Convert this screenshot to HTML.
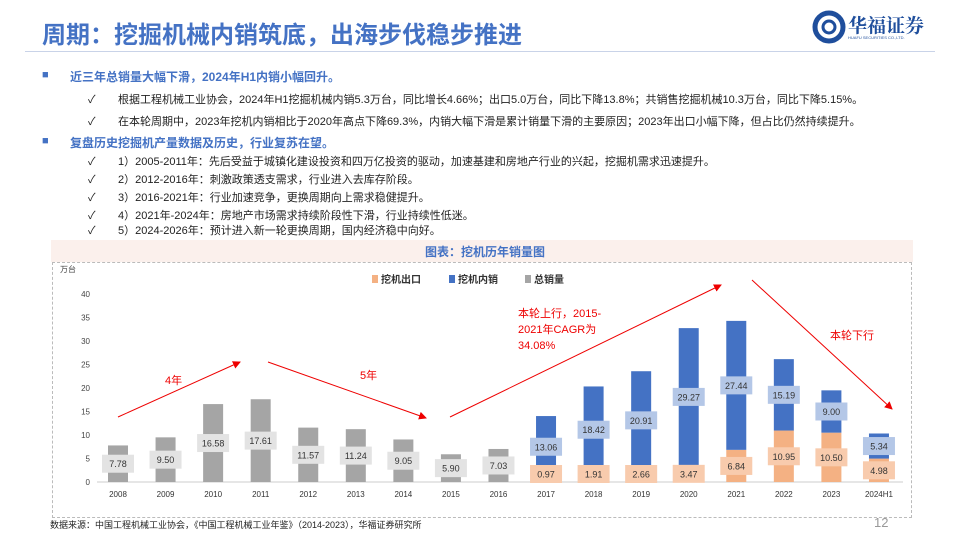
<!DOCTYPE html>
<html><head><meta charset="utf-8">
<style>
body{margin:0;width:960px;height:540px;background:#fff;font-family:"Liberation Sans","Noto Sans CJK SC",sans-serif;position:relative;overflow:hidden}
.t{position:absolute;white-space:nowrap}
</style></head><body>
<div class="t" style="left:42px;top:15px;font-size:24px;font-weight:bold;color:#4472c4">周期：挖掘机械内销筑底，出海步伐稳步推进</div>
<div style="position:absolute;left:25px;top:51px;width:910px;height:1px;background:#c9d3e8"></div>
<div style="position:absolute;left:812px;top:10px;width:130px;height:36px">
<svg width="34" height="34" viewBox="0 0 34 34"><circle cx="17" cy="17" r="14" fill="none" stroke="#1f4e9c" stroke-width="5"/><circle cx="17" cy="17" r="6" fill="none" stroke="#1f4e9c" stroke-width="3"/></svg>
<div class="t" style="left:36px;top:1px;font-size:19px;font-weight:bold;color:#1f4e9c;font-family:'Noto Serif CJK SC',serif">华福证券</div>
<div class="t" style="left:36px;top:25px;font-size:4px;color:#1f4e9c">HUAFU SECURITIES CO.,LTD.</div>
</div>
<div style="font-size:11px;color:#222">
<div class="t" style="left:42px;top:69px;color:#4472c4">■</div><div class="t" style="left:70px;top:68px;color:#4472c4;font-weight:bold;font-size:12px">近三年总销量大幅下滑，2024年H1内销小幅回升。</div>
<div class="t" style="left:88px;top:91px">✓</div><div class="t" style="left:118px;top:91px">根据工程机械工业协会，2024年H1挖掘机械内销5.3万台，同比增长4.66%；出口5.0万台，同比下降13.8%；共销售挖掘机械10.3万台，同比下降5.15%。</div>
<div class="t" style="left:88px;top:113px">✓</div><div class="t" style="left:118px;top:113px">在本轮周期中，2023年挖机内销相比于2020年高点下降69.3%，内销大幅下滑是累计销量下滑的主要原因；2023年出口小幅下降，但占比仍然持续提升。</div>
<div class="t" style="left:42px;top:135px;color:#4472c4">■</div><div class="t" style="left:70px;top:134px;color:#4472c4;font-weight:bold;font-size:12px">复盘历史挖掘机产量数据及历史，行业复苏在望。</div>
<div class="t" style="left:88px;top:153px">✓</div><div class="t" style="left:118px;top:153px">1）2005-2011年：先后受益于城镇化建设投资和四万亿投资的驱动，加速基建和房地产行业的兴起，挖掘机需求迅速提升。</div>
<div class="t" style="left:88px;top:171px">✓</div><div class="t" style="left:118px;top:171px">2）2012-2016年：刺激政策透支需求，行业进入去库存阶段。</div>
<div class="t" style="left:88px;top:189px">✓</div><div class="t" style="left:118px;top:189px">3）2016-2021年：行业加速竞争，更换周期向上需求稳健提升。</div>
<div class="t" style="left:88px;top:207px">✓</div><div class="t" style="left:118px;top:207px">4）2021年-2024年：房地产市场需求持续阶段性下滑，行业持续性低迷。</div>
<div class="t" style="left:88px;top:222px">✓</div><div class="t" style="left:118px;top:222px">5）2024-2026年：预计进入新一轮更换周期，国内经济稳中向好。</div>
</div>
<div style="position:absolute;left:51px;top:240px;width:862px;height:22px;background:#fbf0ec"></div>
<div class="t" style="left:425px;top:243px;font-size:12px;font-weight:bold;color:#4472c4">图表：挖机历年销量图</div>
<div style="position:absolute;left:52px;top:262px;width:860px;height:256px;border:1px dashed #bbb;box-sizing:border-box"></div>
<svg id="chart" width="960" height="540" style="position:absolute;left:0;top:0"></svg>
<div class="t" style="left:50px;top:518px;font-size:9px;color:#222">数据来源：中国工程机械工业协会，《中国工程机械工业年鉴》（2014-2023），华福证券研究所</div>
<div class="t" style="left:874px;top:515px;font-size:13px;color:#999">12</div>
<script>
const years=["2008","2009","2010","2011","2012","2013","2014","2015","2016","2017","2018","2019","2020","2021","2022","2023","2024H1"];
const totalOnly=[7.78,9.50,16.58,17.61,11.57,11.24,9.05,5.90,7.03,null,null,null,null,null,null,null,null];
const exportV=[null,null,null,null,null,null,null,null,null,0.97,1.91,2.66,3.47,6.84,10.95,10.50,4.98];
const domestic=[null,null,null,null,null,null,null,null,null,13.06,18.42,20.91,29.27,27.44,15.19,9.00,5.34];
const yTicks=[0,5,10,15,20,25,30,35,40];
const NS="http://www.w3.org/2000/svg",svg=document.getElementById('chart');
const y=v=>482-v*4.7, x=i=>118+i*47.56, bw=20;
function mk(t,a,txt){const e=document.createElementNS(NS,t);for(const k in a)e.setAttribute(k,a[k]);if(txt!=null)e.textContent=txt;svg.appendChild(e);return e;}
let ax=mk('line',{x1:97,x2:903,y1:482,y2:482,stroke:'#ccc'});

yTicks.forEach(v=>{const t=mk('text',{x:90,y:y(v)+3,'font-size':8,'text-anchor':'end',fill:'#444'},v);
});
let u=mk('text',{x:60,y:272,'font-size':8,fill:'#444'},'万台');
function lab(cx,cy,val,bg){const r=mk('rect',{x:cx-16,y:cy-9,width:32,height:18,fill:bg});
const t=mk('text',{x:cx,y:cy+3.5,'font-size':9,'text-anchor':'middle',fill:'#333'},val.toFixed(2));}
years.forEach((yr,i)=>{const cx=x(i);
const t=mk('text',{x:cx,y:497,'font-size':8,'text-anchor':'middle',fill:'#333'},yr);
if(totalOnly[i]!=null){const b=mk('rect',{x:cx-bw/2,y:y(totalOnly[i]),width:bw,height:482-y(totalOnly[i]),fill:'#a5a5a5'});

lab(cx,Math.min(y(totalOnly[i]/2),472),totalOnly[i],'#e3e3e3');}
if(exportV[i]!=null){const e=exportV[i],d=domestic[i];
const b1=mk('rect',{x:cx-bw/2,y:y(e),width:bw,height:482-y(e),fill:'#f4b183'});
const b2=mk('rect',{x:cx-bw/2,y:y(e+d),width:bw,height:y(e)-y(e+d),fill:'#4472c4'});
lab(cx,Math.min(y(e/2),474),e,'#f8cbad');lab(cx,y(e+d/2),d,'#b4c7e7');}
});
const leg=[["挖机出口","#f4b183",372],["挖机内销","#4472c4",449],["总销量","#a5a5a5",525]];
leg.forEach(l=>{const r=mk('rect',{x:l[2],y:275,width:6,height:8,fill:l[1]});
const t=mk('text',{x:l[2]+9,y:283,'font-size':10,'font-weight':'bold',fill:'#333'},l[0]);});
mk('defs',{}).innerHTML='<marker id="ah" markerWidth="8" markerHeight="8" refX="7" refY="4" orient="auto"><path d="M0,0L8,4L0,8z" fill="#e00"/></marker>';
[[118,417,240,362],[268,362,426,418],[450,417,721,285],[752,280,892,409]].forEach(a=>{const l=mk('line',{x1:a[0],y1:a[1],x2:a[2],y2:a[3],stroke:'#e00','stroke-width':1,'marker-end':'url(#ah)'});
});
[["4年",165,384],["5年",360,379],["本轮上行，2015-",518,317],["2021年CAGR为",518,333],["34.08%",518,349],["本轮下行",830,339]].forEach(a=>{
const t=mk('text',{x:a[1],y:a[2],'font-size':11,fill:'#e00'},a[0]);});
</script>
</body></html>
